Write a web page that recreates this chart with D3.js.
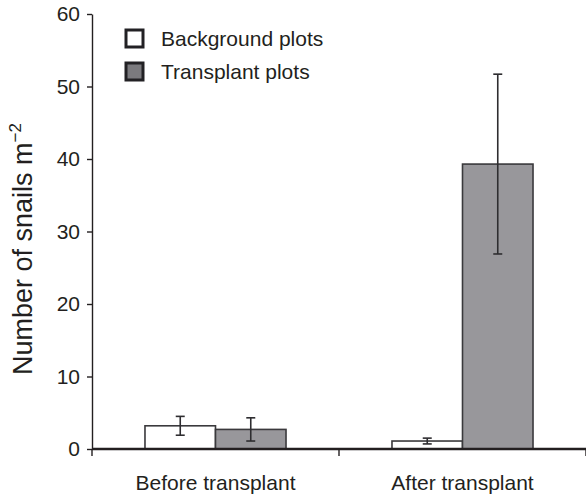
<!DOCTYPE html>
<html>
<head>
<meta charset="utf-8">
<script src="https://cdn.jsdelivr.net/npm/d3@7"></script>
<style>
  html, body { margin: 0; padding: 0; background: #fff; }
  svg { display: block; font-family: "Liberation Sans", Arial, Helvetica, sans-serif; }
</style>
</head>
<body>
<svg id="chart" width="586" height="496"></svg>
<script>
// Snail density before and after the transplant
const periods = ["Before transplant", "After transplant"];
const series = ["Background plots", "Transplant plots"];
const backgroundMean = [3.2, 1.1];
const backgroundErr  = [1.3, 0.4];
const transplantMean = [2.7, 39.3];
const transplantErr  = [1.6, 12.4];
const yTicks = [0, 10, 20, 30, 40, 50, 60];

const fills = ["#ffffff", "#98979b"];
const legendFills = ["#ffffff", "#7b7a7e"];
const ink = "#231f20";

const rows = periods.map((p, i) => ({
  period: p,
  values: [
    { s: series[0], mean: backgroundMean[i], err: backgroundErr[i], k: 0 },
    { s: series[1], mean: transplantMean[i], err: transplantErr[i], k: 1 }
  ]
}));

const svg = d3.select("#chart");
const plotLeft = 92, plotRight = 586, plotTop = 14, plotBottom = 449;

const y = d3.scaleLinear().domain([0, 60]).range([plotBottom, plotTop]);
const x0 = d3.scaleBand().domain(periods).range([plotLeft, plotRight]).padding(0);
const bw = x0.bandwidth();
const groupW = bw * 0.571;
const x1 = d3.scaleBand().domain(series)
  .range([(bw - groupW) / 2, (bw + groupW) / 2]).padding(0);

// bars
const groups = svg.append("g").selectAll("g").data(rows).join("g")
  .attr("transform", d => `translate(${x0(d.period)},0)`);

groups.selectAll("rect").data(d => d.values).join("rect")
  .attr("x", d => x1(d.s))
  .attr("y", d => y(d.mean))
  .attr("width", x1.bandwidth())
  .attr("height", d => y(0) - y(d.mean))
  .attr("fill", d => fills[d.k])
  .attr("stroke", "#3a393c")
  .attr("stroke-width", 1.6);

// error bars
const cap = 4.5;
const eb = groups.selectAll("g.err").data(d => d.values).join("g").attr("class", "err")
  .attr("stroke", "#2e2d30").attr("stroke-width", 1.6);
eb.append("line")
  .attr("x1", d => x1(d.s) + x1.bandwidth() / 2)
  .attr("x2", d => x1(d.s) + x1.bandwidth() / 2)
  .attr("y1", d => y(d.mean + d.err))
  .attr("y2", d => y(d.mean - d.err));
eb.append("line")
  .attr("x1", d => x1(d.s) + x1.bandwidth() / 2 - cap)
  .attr("x2", d => x1(d.s) + x1.bandwidth() / 2 + cap)
  .attr("y1", d => y(d.mean + d.err))
  .attr("y2", d => y(d.mean + d.err));
eb.append("line")
  .attr("x1", d => x1(d.s) + x1.bandwidth() / 2 - cap)
  .attr("x2", d => x1(d.s) + x1.bandwidth() / 2 + cap)
  .attr("y1", d => y(d.mean - d.err))
  .attr("y2", d => y(d.mean - d.err));

// y axis
const yAxis = svg.append("g").attr("transform", `translate(${plotLeft},0)`)
  .call(d3.axisLeft(y).tickValues(yTicks).tickSize(5).tickPadding(7).tickSizeOuter(0));
yAxis.select(".domain").attr("stroke", ink).attr("stroke-width", 1.4);
yAxis.selectAll(".tick line").attr("stroke", ink).attr("stroke-width", 1.4);
yAxis.selectAll(".tick text").attr("font-size", 21).attr("fill", ink)
  .attr("font-family", "Liberation Sans, Arial, sans-serif");

// x axis: ticks at category boundaries
const xAxisG = svg.append("g");
xAxisG.append("line")
  .attr("x1", plotLeft).attr("x2", plotRight)
  .attr("y1", y(0)).attr("y2", y(0))
  .attr("stroke", ink).attr("stroke-width", 2.4);
const bounds = periods.map(p => x0(p)).concat([x0(periods[periods.length - 1]) + bw]);
xAxisG.selectAll("line.bt").data(bounds).join("line").attr("class", "bt")
  .attr("x1", d => d).attr("x2", d => d)
  .attr("y1", y(0)).attr("y2", y(0) + 7)
  .attr("stroke", ink).attr("stroke-width", 1.4);
xAxisG.selectAll("text").data(periods).join("text")
  .attr("x", d => x0(d) + bw / 2)
  .attr("y", y(0) + 41)
  .attr("text-anchor", "middle")
  .attr("font-size", 21)
  .attr("fill", ink)
  .text(d => d);

// y axis title
const title = svg.append("text")
  .attr("transform", `translate(32,249) rotate(-90)`)
  .attr("text-anchor", "middle")
  .attr("font-size", 27)
  .attr("fill", ink);
title.append("tspan").text("Number of snails m");
title.append("tspan").attr("dy", -11).attr("font-size", 17).text("\u22122");

// legend
const legend = svg.append("g").selectAll("g").data(series).join("g")
  .attr("transform", (d, i) => `translate(126,${30 + i * 33})`);
legend.append("rect")
  .attr("width", 17).attr("height", 17)
  .attr("fill", (d, i) => legendFills[i])
  .attr("stroke", "#222124").attr("stroke-width", 3);
legend.append("text")
  .attr("x", 35).attr("y", 15.5)
  .attr("font-size", 21).attr("fill", ink)
  .text(d => d);
</script>
</body>
</html>
